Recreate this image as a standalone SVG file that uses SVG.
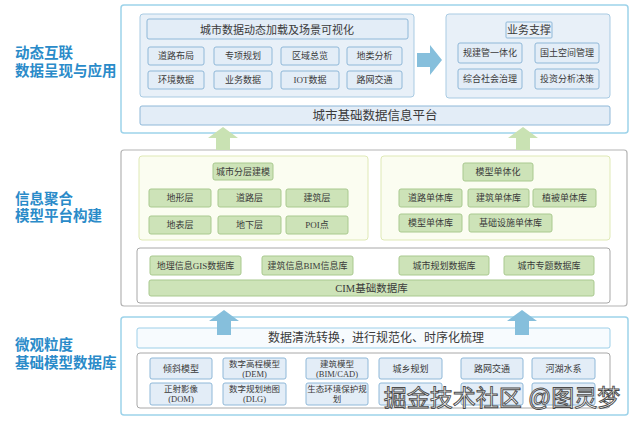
<svg xmlns="http://www.w3.org/2000/svg" width="640" height="424" viewBox="0 0 640 424">
<style>
text{font-family:"Liberation Sans","Noto Sans CJK SC",sans-serif;fill:#3a3a3a;text-anchor:middle;dominant-baseline:central}
.lbl{font-size:14.5px;font-weight:bold;fill:#2a8bc9;text-anchor:start}
.outerB{fill:#fff;stroke:#9dd3ea;stroke-width:1.5}
.outerG{fill:#fff;stroke:#b4b4b4;stroke-width:1.2}
.panelB{fill:#e8f0f8;stroke:#a9cbe3;stroke-width:1}
.boxB{fill:#e3edf7;stroke:#8fb8d8;stroke-width:1}
.panelY{fill:#fbfdf1;stroke:#dfe9b6;stroke-width:1}
.panelW{fill:#fff;stroke:#a8a8a8;stroke-width:1}
.boxG{fill:#cde3b8;stroke:#a9c98f;stroke-width:1}
.s{font-size:9px;font-family:"Liberation Serif","Noto Sans CJK SC",serif}
.s2{font-size:8.5px;font-family:"Liberation Serif","Noto Sans CJK SC",serif}
.arrB{fill:#86bfdc}
.arrG{fill:#c9e2b3}
</style>

<!-- left labels -->
<g id="label-top"><text class="lbl" x="15" y="53">动态互联</text><text class="lbl" x="15" y="71">数据呈现与应用</text></g>
<g id="label-mid"><text class="lbl" x="15" y="199">信息聚合</text><text class="lbl" x="15" y="216">模型平台构建</text></g>
<g id="label-bot"><text class="lbl" x="15" y="345">微观粒度</text><text class="lbl" x="15" y="363">基础模型数据库</text></g>

<!-- TOP SECTION -->
<g id="sec-top">
<rect class="outerB" x="121" y="5" width="507" height="128" rx="3"/>
</g>
<g id="vis-panel">
<rect class="panelB" x="140" y="14" width="274" height="83" rx="3"/>
<rect class="boxB" x="147" y="19" width="261" height="20" rx="2" fill="#e9f1f9"/>
<text x="277" y="29.5" style="font-size:11px">城市数据动态加载及场景可视化</text>
</g>
<g id="vis-items">
<rect class="boxB" x="148" y="47" width="56" height="18" rx="2"/><text class="s" x="176" y="56">道路布局</text>
<rect class="boxB" x="214" y="47" width="58" height="18" rx="2"/><text class="s" x="243" y="56">专项规划</text>
<rect class="boxB" x="281" y="47" width="58" height="18" rx="2"/><text class="s" x="310" y="56">区域总览</text>
<rect class="boxB" x="347" y="47" width="55" height="18" rx="2"/><text class="s" x="374.5" y="56">地类分析</text>
<rect class="boxB" x="148" y="71" width="56" height="18" rx="2"/><text class="s" x="176" y="80">环境数据</text>
<rect class="boxB" x="214" y="71" width="58" height="18" rx="2"/><text class="s" x="243" y="80">业务数据</text>
<rect class="boxB" x="281" y="71" width="58" height="18" rx="2"/><text class="s" x="310" y="80">IOT数据</text>
<rect class="boxB" x="347" y="71" width="55" height="18" rx="2"/><text class="s" x="374.5" y="80">路网交通</text>
</g>
<g id="biz-panel">
<rect class="panelB" x="446" y="14" width="164" height="84" rx="3"/>
<rect x="506" y="22" width="46" height="16" fill="none" stroke="#8fb8d8" stroke-width="1" rx="1"/>
<text x="529" y="30" style="font-size:11px">业务支撑</text>
<rect class="boxB" x="458" y="43" width="64" height="20" rx="2"/><text class="s" x="490" y="53">规建管一体化</text>
<rect class="boxB" x="535" y="43" width="64" height="20" rx="2"/><text class="s" x="567" y="53">国土空间管理</text>
<rect class="boxB" x="458" y="69" width="64" height="20" rx="2"/><text class="s" x="490" y="79">综合社会治理</text>
<rect class="boxB" x="535" y="69" width="64" height="20" rx="2"/><text class="s" x="567" y="79">投资分析决策</text>
</g>
<g id="platform">
<rect class="boxB" x="140" y="106" width="470" height="19" rx="2" fill="#e6eff8"/>
<text x="375" y="115.5" style="font-size:12.5px">城市基础数据信息平台</text>
</g>

<!-- MIDDLE SECTION -->
<g id="sec-mid">
<rect class="outerG" x="121" y="150" width="506" height="156" rx="3"/>
</g>
<g id="layer-panel">
<rect class="panelY" x="139" y="156" width="229" height="84" rx="3"/>
<rect class="boxG" x="213" y="163" width="60" height="17" rx="2"/><text class="s" x="243" y="171.5">城市分层建模</text>
<rect class="boxG" x="149" y="189" width="62" height="18" rx="2"/><text class="s" x="180" y="198">地形层</text>
<rect class="boxG" x="218" y="189" width="63" height="18" rx="2"/><text class="s" x="249.5" y="198">道路层</text>
<rect class="boxG" x="286" y="189" width="62" height="18" rx="2"/><text class="s" x="317" y="198">建筑层</text>
<rect class="boxG" x="149" y="216" width="62" height="18" rx="2"/><text class="s" x="180" y="225">地表层</text>
<rect class="boxG" x="218" y="216" width="63" height="18" rx="2"/><text class="s" x="249.5" y="225">地下层</text>
<rect class="boxG" x="286" y="216" width="62" height="18" rx="2"/><text class="s" x="317" y="225">POI点</text>
</g>
<g id="mono-panel">
<rect class="panelY" x="381" y="156" width="229" height="84" rx="3" fill="#fefff9"/>
<rect class="boxG" x="463" y="163" width="70" height="18" rx="2"/><text class="s" x="498" y="172">模型单体化</text>
<rect class="boxG" x="399" y="189" width="63" height="18" rx="2"/><text class="s" x="430.5" y="198">道路单体库</text>
<rect class="boxG" x="468" y="189" width="61" height="18" rx="2"/><text class="s" x="498.5" y="198">建筑单体库</text>
<rect class="boxG" x="533" y="189" width="63" height="18" rx="2"/><text class="s" x="564.5" y="198">植被单体库</text>
<rect class="boxG" x="399" y="214" width="63" height="18" rx="2"/><text class="s" x="430.5" y="223">模型单体库</text>
<rect class="boxG" x="469" y="214" width="83" height="18" rx="2"/><text class="s" x="510.5" y="223">基础设施单体库</text>
</g>
<g id="db-panel">
<rect class="panelW" x="137" y="248" width="473" height="55" rx="3"/>
<rect class="boxG" x="150" y="256" width="91" height="19" rx="2"/><text class="s" x="195.5" y="265.5">地理信息GIS数据库</text>
<rect class="boxG" x="262" y="256" width="91" height="19" rx="2"/><text class="s" x="307.5" y="265.5">建筑信息BIM信息库</text>
<rect class="boxG" x="399" y="256" width="90" height="19" rx="2"/><text class="s" x="444" y="265.5">城市规划数据库</text>
<rect class="boxG" x="504" y="256" width="90" height="19" rx="2"/><text class="s" x="549" y="265.5">城市专题数据库</text>
<rect class="boxG" x="149" y="280" width="445" height="16" rx="2"/><text x="371.5" y="288" style="font-size:10.5px;font-family:'Liberation Serif','Noto Sans CJK SC',serif">CIM基础数据库</text>
</g>

<!-- BOTTOM SECTION -->
<g id="sec-bot">
<rect class="outerB" x="121" y="317" width="507" height="98" rx="3"/>
</g>
<g id="clean-bar">
<rect x="137" y="328" width="473" height="20" rx="2" fill="#f7fbfe" stroke="#9dcfe8" stroke-width="1"/>
<text x="376" y="338" style="font-size:12px">数据清洗转换，进行规范化、时序化梳理</text>
</g>
<g id="base-panel">
<rect class="panelW" x="137" y="353" width="473" height="55" rx="3"/>
<rect class="boxB" x="150" y="358" width="62" height="21" rx="2"/><text class="s" x="181" y="368.5">倾斜模型</text>
<rect class="boxB" x="223" y="358" width="63" height="21" rx="2"/><text class="s2" x="254.5" y="363.5">数字高程模型</text><text class="s2" x="254.5" y="373.5">(DEM)</text>
<rect class="boxB" x="306" y="358" width="62" height="21" rx="2"/><text class="s2" x="337" y="363.5">建筑模型</text><text class="s2" x="337" y="373.5">(BIM/CAD)</text>
<rect class="boxB" x="379" y="358" width="63" height="21" rx="2"/><text class="s" x="410.5" y="368.5">城乡规划</text>
<rect class="boxB" x="461" y="358" width="62" height="21" rx="2"/><text class="s" x="492" y="368.5">路网交通</text>
<rect class="boxB" x="532" y="358" width="63" height="21" rx="2"/><text class="s" x="563.5" y="368.5">河湖水系</text>
<rect class="boxB" x="150" y="383" width="62" height="22" rx="2"/><text class="s2" x="181" y="389">正射影像</text><text class="s2" x="181" y="399">(DOM)</text>
<rect class="boxB" x="223" y="383" width="63" height="22" rx="2"/><text class="s2" x="254.5" y="389">数字规划地图</text><text class="s2" x="254.5" y="399">(DLG)</text>
<rect class="boxB" x="306" y="383" width="62" height="22" rx="2"/><text class="s2" x="337" y="389">生态环境保护规</text><text class="s2" x="337" y="399">划</text>
<rect class="boxB" x="379" y="383" width="63" height="22" rx="2"/>
<rect class="boxB" x="461" y="383" width="62" height="22" rx="2"/>
<rect class="boxB" x="532" y="383" width="63" height="22" rx="2"/>
</g>

<!-- connectors -->
<g id="connectors">
<path class="arrB" d="M417,53 H430 V45 L442,60 L430,75 V67 H417 Z"/>
<path class="arrG" d="M216,150 V138 H208 L223,127 L238,138 H230 V150 Z"/>
<path class="arrG" d="M516,150 V138 H508 L523,127 L538,138 H530 V150 Z"/>
<path class="arrB" d="M217,335 V321 H209 L224,310 L239,321 H231 V335 Z"/>
<path class="arrB" d="M515,335 V321 H507 L522,310 L537,321 H529 V335 Z"/>
</g>

<!-- watermark -->
<g id="watermark">
<text x="502" y="398" style="font-size:23px;fill:#ffffff;fill-opacity:0.85;stroke:#4a4a4a;stroke-width:0.9">掘金技术社区 @图灵梦</text>
</g>
</svg>
